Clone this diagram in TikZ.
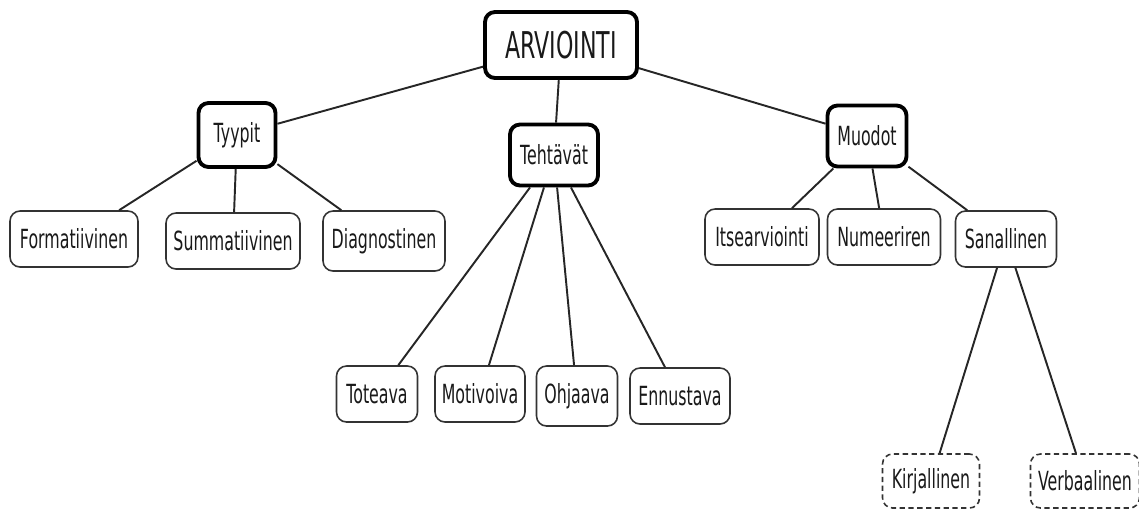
\documentclass[tikz,border=0pt]{standalone}
\usepackage{fontspec}
\setmainfont[FakeStretch=0.6]{DejaVu Sans}
\usepackage{tikz}
\usetikzlibrary{positioning}

\begin{document}
\begin{tikzpicture}[x=0.02cm,y=-0.02cm,
  leaf/.style={draw=black!80,line width=0.9pt,rounded corners=0.2cm,fill=white,
    text=black!90,font=\fontsize{15}{17}\selectfont,
    minimum height=1.12cm,inner xsep=0.12cm},
  hub/.style={leaf,draw=black,line width=2.2pt,minimum height=1.24cm},
  dleaf/.style={leaf,dash pattern=on 3pt off 2pt},
  link/.style={line width=1.1pt,black!85}]
  \useasboundingbox (0,0) rectangle (1139,512);

  % Root
  \node[hub,minimum width=3.04cm,minimum height=1.32cm,
    font=\fontsize{21}{24}\selectfont] (arv) at (561,45) {ARVIOINTI};

  % Second level
  \node[hub,minimum width=1.54cm,minimum height=1.28cm] (tyyp) at (237,135) {Tyypit};
  \node[hub,minimum width=1.76cm,minimum height=1.22cm] (teht) at (554,155) {Tehtävät};
  \node[hub,minimum width=1.58cm,minimum height=1.22cm] (muod) at (867,136) {Muodot};

  % Types
  \node[leaf,minimum width=2.56cm] (form) at (74,239) {Formatiivinen};
  \node[leaf,minimum width=2.68cm] (summ) at (233,241) {Summatiivinen};
  \node[leaf,minimum width=2.44cm,minimum height=1.2cm] (diag) at (384,241) {Diagnostinen};

  % Tasks
  \node[leaf,minimum width=1.62cm] (tote) at (377,394) {Toteava};
  \node[leaf,minimum width=1.80cm] (moti) at (480,394) {Motivoiva};
  \node[leaf,minimum width=1.62cm,minimum height=1.2cm] (ohja) at (577,396) {Ohjaava};
  \node[leaf,minimum width=2.00cm] (ennu) at (680,396) {Ennustava};

  % Forms
  \node[leaf,minimum width=2.28cm] (itse) at (762,237) {Itsearviointi};
  \node[leaf,minimum width=2.26cm] (nume) at (884,237) {Numeeriren};
  \node[leaf,minimum width=2.02cm] (sana) at (1006,239) {Sanallinen};

  % Verbal
  \node[dleaf,minimum width=1.94cm,minimum height=1.08cm] (kirj) at (931,481) {Kirjallinen};
  \node[dleaf,minimum width=2.18cm,minimum height=1.08cm] (verb) at (1085,481) {Verbaalinen};

  % Links
  \draw[link] (arv) -- (tyyp);
  \draw[link] (arv) -- (teht);
  \draw[link] (arv) -- (muod);
  \foreach \k in {form,summ,diag} \draw[link] (tyyp) -- (\k);
  \foreach \k in {tote,moti,ohja,ennu} \draw[link] (teht) -- (\k);
  \foreach \k in {itse,nume,sana} \draw[link] (muod) -- (\k);
  \draw[link] (sana) -- (kirj);
  \draw[link] (sana) -- (verb);
\end{tikzpicture}
\end{document}
